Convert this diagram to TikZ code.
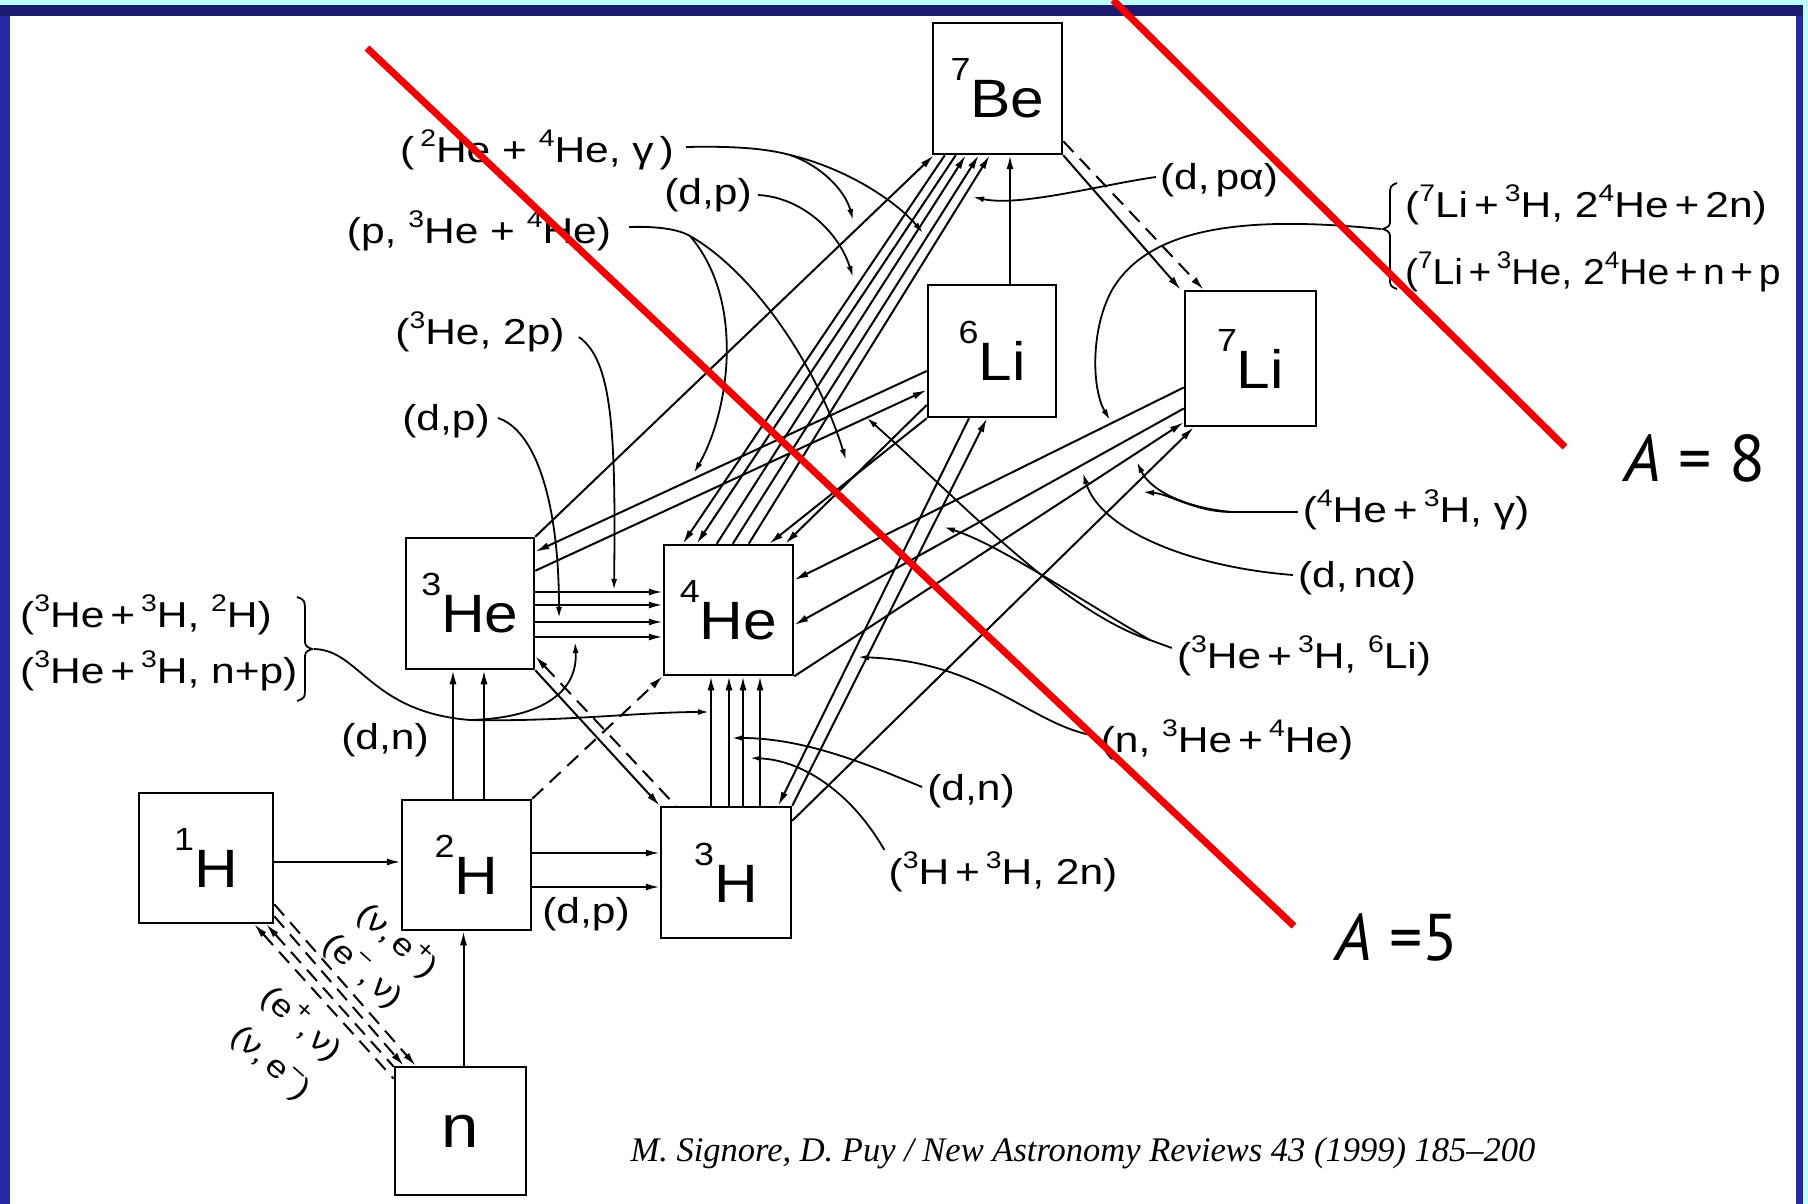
\documentclass[tikz,border=0pt]{standalone}
\usepackage{fontspec}
\setmainfont{Liberation Sans}
\newfontfamily\labfont{Liberation Sans}[FakeStretch=1.18]
\newfontfamily\boxfont{Liberation Sans}[FakeStretch=1.12]
\newfontfamily\citefont{Liberation Serif}
\newfontfamily\afont{PT Sans}
\usetikzlibrary{arrows.meta}
\definecolor{navyband}{RGB}{28,28,110}
\definecolor{cyanband}{RGB}{190,255,255}
\definecolor{sideblue}{RGB}{40,40,165}
\definecolor{redline}{RGB}{240,0,0}
\newcommand\isup[1]{\raisebox{0.45em}{\fontsize{24}{24}\selectfont #1}}
\newcommand\bsup[1]{\raisebox{37pt}{\fontsize{32}{32}\selectfont #1}}
\tikzset{
  nbox/.style={draw, line width=2.5pt, inner sep=0pt, font=\boxfont\fontsize{54}{54}\selectfont},
  ln/.style={line width=2pt},
  arr/.style={ln, -{Latex[length=14pt,width=7pt]}},
  rarr/.style={ln, {Latex[length=14pt,width=7pt]}-},
  dsh/.style={dash pattern=on 15pt off 9pt},
  lead/.style={line width=1.8pt, -{Latex[length=11pt,width=6pt]}},
  plain/.style={line width=1.8pt},
  lbl/.style={inner sep=0pt, font=\labfont\fontsize{36}{40}\selectfont},
  blbl/.style={inner sep=0pt, rotate=-42, font=\labfont\fontsize{31}{31}\selectfont},
  redstroke/.style={line width=7pt, draw=redline},
}
\begin{document}
\begin{tikzpicture}[x=1pt,y=-1pt]
\useasboundingbox (0,0) rectangle (1808,1204);
\fill[white] (0,0) rectangle (1808,1204);

% ---------- nuclide boxes
\node[nbox, minimum width=129, minimum height=131] (Be7) at (997.5,88.5) {\bsup{7}Be};
\node[nbox, minimum width=128, minimum height=132] (Li6) at (992,351) {\bsup{6}Li};
\node[nbox, minimum width=131, minimum height=135] (Li7) at (1250.5,358.5) {\bsup{7}Li};
\node[nbox, minimum width=128, minimum height=131] (He3) at (470,603.5) {\bsup{3}He};
\node[nbox, minimum width=129, minimum height=130] (He4) at (728.5,610) {\bsup{4}He};
\node[nbox, minimum width=134, minimum height=130] (H1) at (206,858) {\bsup{1}H};
\node[nbox, minimum width=129, minimum height=130] (H2) at (466.5,865) {\bsup{2}H};
\node[nbox, minimum width=130, minimum height=131] (H3) at (726,872.5) {\bsup{3}H};
\node[nbox, minimum width=131, minimum height=128, font=\boxfont\fontsize{60}{60}\selectfont] (N) at (460.5,1131) {n};

% ---------- reaction lines between boxes
\draw[arr] ([shift={(0,4)}]H1.east) -- ([shift={(0,-3)}]H2.west);
\draw[arr] ([shift={(3,0)}]N.north) -- ([shift={(-3,0)}]H2.south);
\draw[arr] ([shift={(0,-12)}]H2.east) -- ([shift={(0,-19.5)}]H3.west);
\draw[arr] ([shift={(0,22)}]H2.east) -- ([shift={(0,14.5)}]H3.west);
\draw[arr] ([shift={(-13.5,0)}]H2.north) -- ([shift={(-17,0)}]He3.south);
\draw[arr] ([shift={(17.5,0)}]H2.north) -- ([shift={(14,0)}]He3.south);
\draw[arr,dsh] (H2.north east) -- (He4.south west);
\draw[arr] (He3.south east) -- (H3.north west);
\draw[rarr,dsh] ([shift={(0,-14)}]He3.south east) -- ([shift={(16,0)}]H3.north west);
\draw[arr] ([shift={(-15,0)}]H3.north) -- ([shift={(-17.5,0)}]He4.south);
\draw[arr] ([shift={(3,0)}]H3.north) -- ([shift={(0.5,0)}]He4.south);
\draw[arr] ([shift={(17,0)}]H3.north) -- ([shift={(14.5,0)}]He4.south);
\draw[arr] ([shift={(34,0)}]H3.north) -- ([shift={(31.5,0)}]He4.south);
\draw[arr] ([shift={(0,-11.5)}]He3.east) -- ([shift={(0,-18)}]He4.west);
\draw[arr] ([shift={(0,1.5)}]He3.east) -- ([shift={(0,-5)}]He4.west);
\draw[arr] ([shift={(0,18.5)}]He3.east) -- ([shift={(0,12)}]He4.west);
\draw[arr] ([shift={(0,33.5)}]He3.east) -- ([shift={(0,27)}]He4.west);
\draw[arr] (He3.north east) -- ([shift={(2,0)}]Be7.south west);
\draw[rarr] ([shift={(0,15)}]He3.north east) -- ([shift={(0,20)}]Li6.west);
\draw[arr] ([shift={(0,34)}]He3.north east) -- ([shift={(0,39)}]Li6.west);
\draw[rarr] ([shift={(20,0)}]He4.north west) -- ([shift={(13,0)}]Be7.south west);
\draw[rarr] ([shift={(34,0)}]He4.north west) -- ([shift={(24,0)}]Be7.south west);
\draw[arr] ([shift={(54,0)}]He4.north west) -- ([shift={(34,0)}]Be7.south west);
\draw[arr] ([shift={(70,0)}]He4.north west) -- ([shift={(47,0)}]Be7.south west);
\draw[arr] ([shift={(86,0)}]He4.north west) -- ([shift={(58,0)}]Be7.south west);
\draw[arr] ([shift={(0,54)}]Li6.west) -- ([shift={(-9,0)}]He4.north east);
\draw[arr] (Li6.south west) -- ([shift={(-25,0)}]He4.north east);
\draw[arr] ([shift={(18,0)}]Li6.north) -- ([shift={(12.5,0)}]Be7.south);
\draw[arr] (Be7.south east) -- ([shift={(-3,0)}]Li7.north west);
\draw[arr,dsh] ([shift={(0,-14)}]Be7.south east) -- ([shift={(20,0)}]Li7.north west);
\draw[rarr] ([shift={(-14,0)}]H3.north east) -- ([shift={(-23,0)}]Li6.south);
\draw[arr] (H3.north east) -- ([shift={(-5,0)}]Li6.south);
\draw[arr] ([shift={(0,15)}]H3.north east) -- ([shift={(10,0)}]Li7.south west);
\draw[arr] (He4.south east) -- ([shift={(0,-5)}]Li7.south west);
\draw[arr] ([shift={(0,29)}]Li7.west) -- ([shift={(0,-30)}]He4.east);
\draw[arr] ([shift={(0,50)}]Li7.west) -- ([shift={(0,15)}]He4.east);
% beta processes
\draw[rarr,dsh] ([shift={(-20,0)}]H1.south east) -- ([shift={(0,13)}]N.north west);
\draw[rarr,dsh] ([shift={(-8,0)}]H1.south east) -- ([shift={(0,1)}]N.north west);
\draw[arr,dsh] ([shift={(0,-8)}]H1.south east) -- ([shift={(10,0)}]N.north west);
\draw[arr,dsh] ([shift={(0,-20)}]H1.south east) -- ([shift={(22,0)}]N.north west);

% ---------- labels
\node[lbl] (lGam) at (537,150) {(\,\isup{2}He + \isup{4}He,\ γ\,)};
\node[lbl] (lDp1) at (708,195) {(d,p)};
\node[lbl] (lPHe) at (479,231) {(p, \isup{3}He + \isup{4}He)};
\node[lbl] (l2p) at (480,332) {(\isup{3}He, 2p)};
\node[lbl] (lDp2) at (446,421) {(d,p)};
\node[lbl, anchor=west] (lHH1) at (20,615) {(\isup{3}He\,+\,\isup{3}H, \isup{2}H)};
\node[lbl, anchor=west] (lHH2) at (20,671) {(\isup{3}He\,+\,\isup{3}H, n+p)};
\node[lbl] (lDn1) at (385,740) {(d,n)};
\node[lbl] (lDp3) at (586,914) {(d,p)};
\node[lbl] (lDpa) at (1219,180) {(d,\,pα)};
\node[lbl, anchor=west] (lLi1) at (1405,205) {(\isup{7}Li\,+\,\isup{3}H, 2\isup{4}He\,+\,2n)};
\node[lbl, anchor=west] (lLi2) at (1405,272) {\scalebox{0.92}[1]{(\isup{7}Li\,+\,\isup{3}He, 2\isup{4}He\,+\,n\,+\,p}};
\node[lbl] (lHeg) at (1416,510) {(\isup{4}He\,+\,\isup{3}H, γ)};
\node[lbl] (lDna) at (1357,578) {(d,\,nα)};
\node[lbl] (lLi6) at (1304,656) {(\isup{3}He\,+\,\isup{3}H, \isup{6}Li)};
\node[lbl] (lNHe) at (1227,740) {(n, \isup{3}He\,+\,\isup{4}He)};
\node[lbl] (lDn2) at (971,791) {(d,n)};
\node[lbl] (l2n) at (1003,872) {(\isup{3}H\,+\,\isup{3}H, 2n)};
\node[blbl] (bt1) at (398,940) {(ν,\,e\isup{+})};
\node[blbl] (bt2) at (362,972) {(e\isup{−},\,ν)};
\node[blbl] (bt3) at (302,1023) {(e\isup{+},\,ν)};
\node[blbl] (bt4) at (270,1064) {(ν,\,e\isup{−})};

% braces
\draw[plain] (297,597) .. controls (305,600) .. (305,615) -- (305,638) .. controls (305,646) .. (312,649) .. controls (305,652) .. (305,660) -- (305,686) .. controls (305,698) .. (297,701);
\draw[plain] (1397,183) .. controls (1390,186) .. (1390,196) -- (1390,219) .. controls (1390,226) .. (1383,229) .. controls (1390,232) .. (1390,240) -- (1390,278) .. controls (1390,286) .. (1397,289);

% ---------- leader curves
\coordinate (t1a) at (853,220);
\coordinate (t1b) at (923,233);
\coordinate (t2) at (853,277);
\coordinate (t3a) at (694,473);
\coordinate (t3b) at (846,460);
\coordinate (t4) at (614,590);
\coordinate (t5) at (559,618);
\coordinate (t6a) at (709,712);
\coordinate (t6b) at (575,642);
\coordinate (t7) at (973,197);
\coordinate (t8) at (1110,420);
\coordinate (t9a) at (1143,492);
\coordinate (t9b) at (1137,462);
\coordinate (t10) at (1083,473);
\coordinate (t11a) at (944,527);
\coordinate (t11b) at (867,418);
\coordinate (t12) at (858,657);
\coordinate (t13) at (732,738);
\coordinate (t14) at (750,758);
\coordinate (b1) at (790,155);
\coordinate (b3) at (690,236);
\coordinate (b6) at (470,720);
\coordinate (b9) at (1232,512);
\coordinate (b11) at (1150,640);
\coordinate (br1) at (314,649);
\coordinate (br2) at (1381,229);

\draw[plain] ([shift={(12,-3)}]lGam.east) .. controls (730,146) and (765,148) .. (b1);
\draw[lead] (b1) .. controls (820,165) and (845,190) .. (t1a);
\draw[lead] (b1) .. controls (845,168) and (895,200) .. (t1b);
\draw[lead] ([shift={(6,0)}]lDp1.east) .. controls (800,197) and (838,230) .. (t2);
\draw[plain] ([shift={(18,-4)}]lPHe.east) .. controls (660,226) and (680,230) .. (b3);
\draw[lead] (b3) .. controls (745,300) and (730,410) .. (t3a);
\draw[lead] (b3) .. controls (750,270) and (815,360) .. (t3b);
\draw[lead] ([shift={(14,5)}]l2p.east) .. controls (612,360) and (616,430) .. (t4);
\draw[lead] ([shift={(8,-3)}]lDp2.east) .. controls (535,430) and (559,500) .. (t5);
\draw[plain] (br1) .. controls (360,650) and (370,712) .. (b6);
\draw[lead] (b6) .. controls (560,722) and (640,712) .. (t6a);
\draw[lead] (b6) .. controls (545,718) and (578,690) .. (t6b);
\draw[lead] ([shift={(-4,-3)}]lDpa.west) .. controls (1100,185) and (1020,207) .. (t7);
\draw[lead] (br2) .. controls (1250,216) and (1150,225) .. (1112,290) .. controls (1090,330) and (1092,390) .. (t8);
\draw[plain] ([shift={(-5,2)}]lHeg.west) -- (b9);
\draw[lead] (b9) .. controls (1195,512) and (1170,494) .. (t9a);
\draw[lead] (b9) .. controls (1185,508) and (1150,490) .. (t9b);
\draw[lead] ([shift={(-5,-3)}]lDna.west) .. controls (1190,567) and (1100,530) .. (t10);
\draw[plain] ([shift={(-5,-8)}]lLi6.west) -- (b11);
\draw[lead] (b11) .. controls (1080,600) and (1000,545) .. (t11a);
\draw[lead] (b11) .. controls (1060,610) and (960,500) .. (t11b);
\draw[lead] ([shift={(-5,-4)}]lNHe.west) .. controls (1030,725) and (985,662) .. (t12);
\draw[lead] ([shift={(-5,-4)}]lDn2.west) .. controls (880,770) and (810,738) .. (t13);
\draw[lead] ([shift={(-4,-22)}]l2n.west) .. controls (850,790) and (800,760) .. (t14);

% ---------- frame
\fill[cyanband] (0,0) rectangle (1808,5);
\fill[navyband] (0,5) rectangle (1808,16);
\fill[sideblue] (0,16) rectangle (10,1204);
\fill[sideblue] (1796,16) rectangle (1803,1204);
\fill[cyanband] (1803,0) rectangle (1808,1204);

% ---------- annotations
\node[font=\citefont\itshape\fontsize{34.5}{34.5}\selectfont, inner sep=0pt] (cite) at (1083,1153) {M. Signore, D. Puy / New Astronomy Reviews 43 (1999) 185–200};
\node[font=\afont\fontsize{66}{66}\selectfont, inner sep=0pt] (a8) at (1695,458) {\textit{A} = 8};
\node[font=\afont\fontsize{66}{66}\selectfont, inner sep=0pt] (a5) at (1397,937) {\textit{A} =5};
\draw[redstroke] (367,48) -- (1294,926);
\draw[redstroke] (1113,0) -- (1565,447);
\end{tikzpicture}
\end{document}
